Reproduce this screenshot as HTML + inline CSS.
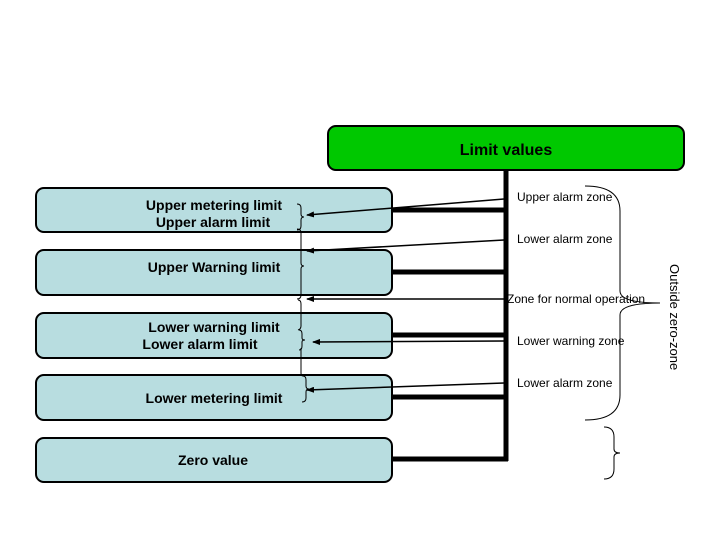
<!DOCTYPE html>
<html><head><style>body{margin:0;background:#fff}svg{display:block}</style></head>
<body>
<svg width="720" height="540" xmlns="http://www.w3.org/2000/svg" font-family="Liberation Sans, sans-serif">
<defs><marker id="a" markerUnits="userSpaceOnUse" markerWidth="8" markerHeight="6" refX="7" refY="3" orient="auto"><path d="M0,0 L8,3 L0,6z" fill="#000"/></marker></defs>
<rect x="328" y="126" width="356" height="44" rx="8" fill="#00c800" stroke="#000" stroke-width="2"/>
<text x="506" y="155" font-size="16" font-weight="bold" text-anchor="middle">Limit values</text>
<g fill="#b8dde0" stroke="#000" stroke-width="2">
<rect x="36" y="188" width="356" height="44" rx="8"/>
<rect x="36" y="250" width="356" height="45" rx="8"/>
<rect x="36" y="313" width="356" height="45" rx="8"/>
<rect x="36" y="375" width="356" height="45" rx="8"/>
<rect x="36" y="438" width="356" height="44" rx="8"/>
</g>
<g font-size="14" font-weight="bold" text-anchor="middle">
<text x="214" y="210">Upper metering limit</text>
<text x="213" y="227">Upper alarm limit</text>
<text x="214" y="272">Upper Warning limit</text>
<text x="214" y="332">Lower warning limit</text>
<text x="200" y="349">Lower alarm limit</text>
<text x="214" y="403">Lower metering limit</text>
<text x="213" y="465">Zero value</text>
</g>
<g stroke="#000">
<line x1="506" y1="170" x2="506" y2="461" stroke-width="5"/>
<line x1="392" y1="210" x2="508" y2="210" stroke-width="5"/>
<line x1="392" y1="272" x2="508" y2="272" stroke-width="5"/>
<line x1="392" y1="335" x2="508" y2="335" stroke-width="5"/>
<line x1="392" y1="397" x2="508" y2="397" stroke-width="5"/>
<line x1="392" y1="459" x2="508" y2="459" stroke-width="5"/>
<g stroke-width="1.5" marker-end="url(#a)">
<line x1="504" y1="199" x2="307" y2="215"/>
<line x1="504" y1="240" x2="307" y2="251"/>
<line x1="504" y1="299" x2="307" y2="299"/>
<line x1="504" y1="341" x2="313" y2="342"/>
<line x1="504" y1="383" x2="307" y2="390"/>
</g>
<g fill="none" stroke-width="1">
<path d="M297,204 q4,0 4,4 v6 q0,3 3,3 q-3,0 -3,3 v6 q0,4 -4,4"/>
<path d="M297,229 q4,0 4,4 v30 q0,3 3,3 q-3,0 -3,3 v26 q0,4 -4,4"/>
<path d="M298,300 q3,0 3,4 v22 q0,3 -3,4"/>
<path d="M299,330 q3,0 3,4 v4 q0,2 3,2 q-3,0 -3,2 v4 q0,4 -3,4"/>
<path d="M301,348 v25 q0,3 2,3 q3,0 3,4 v6 q0,3 3,3 q-3,0 -3,3 v6 q0,4 -4,4"/>
<path d="M585,186 q35,0 35,25 v80 q0,12 40,12 q-40,0 -40,12 v80 q0,25 -35,25"/>
<path d="M604,427 q10,0 10,10 v12 q0,4 6,4 q-6,0 -6,4 v12 q0,10 -10,10"/>
</g>
</g>
<g font-size="12">
<text x="517" y="201">Upper alarm zone</text>
<text x="517" y="243">Lower alarm zone</text>
<text x="507" y="303">Zone for normal operation</text>
<text x="517" y="345">Lower warning zone</text>
<text x="517" y="387">Lower alarm zone</text>
<text transform="translate(670,264) rotate(90)" font-size="13">Outside zero-zone</text>
</g>
</svg>
</body></html>
